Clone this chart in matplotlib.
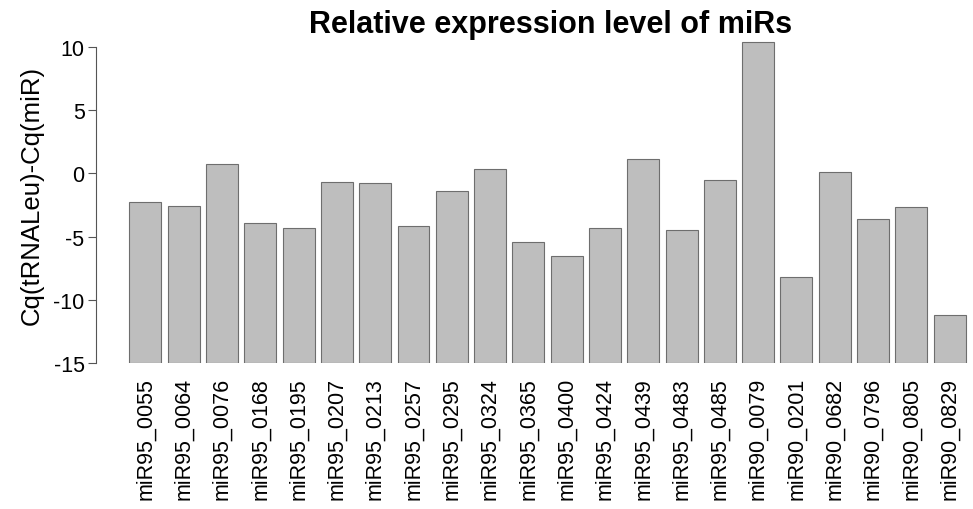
import numpy as np
import matplotlib.pyplot as plt

plt.rcParams['font.family'] = ['Liberation Sans', 'DejaVu Sans']

# miR names and Cq(tRNALeu)-Cq(miR) values
mirs = ['miR95_0055', 'miR95_0064', 'miR95_0076', 'miR95_0168', 'miR95_0195',
        'miR95_0207', 'miR95_0213', 'miR95_0257', 'miR95_0295', 'miR95_0324',
        'miR95_0365', 'miR95_0400', 'miR95_0424', 'miR95_0439', 'miR95_0483',
        'miR95_0485', 'miR90_0079', 'miR90_0201', 'miR90_0682', 'miR90_0796',
        'miR90_0805', 'miR90_0829']
values = [-2.24, -2.61, 0.76, -3.95, -4.35, -0.66, -0.77, -4.19, -1.37, 0.34,
          -5.43, -6.56, -4.35, 1.10, -4.51, -0.53, 10.37, -8.17, 0.13, -3.58,
          -2.69, -11.22]
base = -15
yticks = [-15, -10, -5, 0, 5, 10]

fig = plt.figure(figsize=(9.73, 5.10), dpi=100)
# R-style barplot: width 1, space 0.2, 4% axis padding; right side runs off the figure
ax = fig.add_axes([95.7 / 973, (510 - 364.3) / 510, 910 / 973, (364.3 - 40.1) / 510])

n = len(values)
x = 0.2 + 1.2 * np.arange(n) + 0.5
heights = np.array(values) - base
ax.bar(x, heights, width=1.0, bottom=base, color='#bebebe', edgecolor='#6e6e6e', linewidth=0.8)

span = 1.2 * n
ax.set_xlim(0.2 - 0.04 * span, 0.2 + span + 0.04 * span)
ax.set_ylim(-15, 10.6)

for s in ['top', 'right', 'bottom']:
    ax.spines[s].set_visible(False)
ax.spines['left'].set_bounds(-15, 10)
ax.spines['left'].set_color('#555555')
ax.spines['left'].set_linewidth(0.8)

ax.set_yticks(yticks)
ax.set_yticklabels([str(t) for t in yticks], fontsize=15.5)
ax.tick_params(axis='y', length=6, width=0.8, color='#555555', pad=2)

ax.set_xticks(x)
ax.set_xticklabels(mirs, rotation=90, fontsize=15.5)
ax.tick_params(axis='x', length=0, pad=10)

ax.set_ylabel('Cq(tRNALeu)-Cq(miR)', fontsize=18.5)
ax.yaxis.set_label_coords(-0.057, 0.521)
ax.set_title('Relative expression level of miRs', fontsize=22, fontweight='bold', pad=3.7)

fig.savefig('out.png', dpi=100)
